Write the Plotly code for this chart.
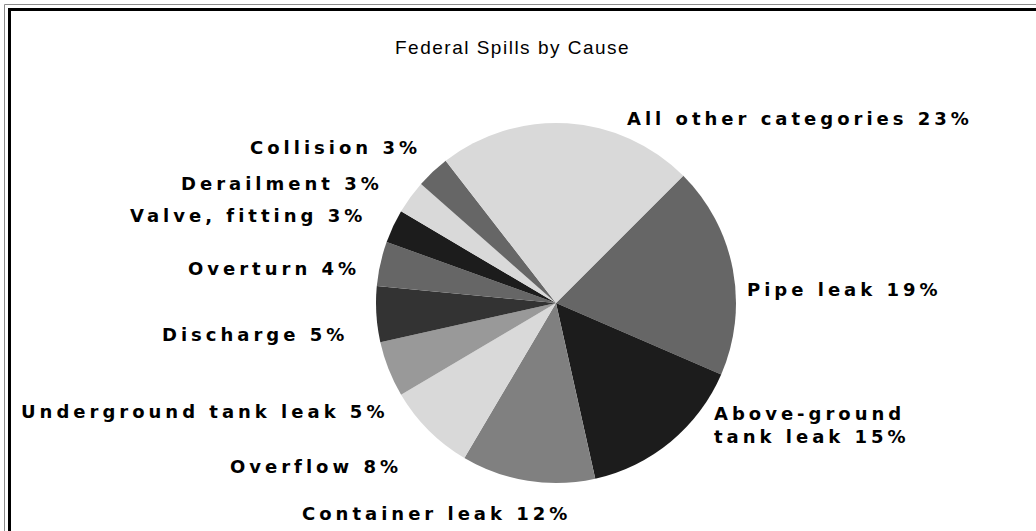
import plotly.graph_objects as go

# Federal spills broken down by cause (percent of total)
causes = [
    "Pipe leak",
    "Above-ground tank leak",
    "Container leak",
    "Overflow",
    "Underground tank leak",
    "Discharge",
    "Overturn",
    "Valve, fitting",
    "Derailment",
    "Collision",
    "All other categories",
]
shares = [19, 15, 12, 8, 5, 5, 4, 3, 3, 3, 23]

# label text as printed beside each slice
label_text = [
    "Pipe leak",
    "Above-ground<br>tank leak",
    "Container leak",
    "Overflow",
    "Underground tank leak",
    "Discharge",
    "Overturn",
    "Valve, fitting",
    "Derailment",
    "Collision",
    "All other categories",
]

slice_colors = [
    "#666666", "#1c1c1c", "#808080", "#d9d9d9", "#999999", "#333333",
    "#666666", "#1c1c1c", "#d9d9d9", "#666666", "#d9d9d9",
]

W, H = 1036, 531

# label anchor points in pixels (x, y, horizontal anchor, text alignment)
label_pos = [
    (745, 289, "left", "left"),
    (712, 425, "left", "left"),
    (436, 513, "center", "center"),
    (404, 466, "right", "right"),
    (390, 411, "right", "right"),
    (350, 334, "right", "right"),
    (362, 268, "right", "right"),
    (368, 215, "right", "right"),
    (385, 183, "right", "right"),
    (423, 147, "right", "right"),
    (625, 118, "left", "left"),
]

cx, cy, r = 556, 303, 180

fig = go.Figure(
    go.Pie(
        labels=causes,
        values=shares,
        sort=False,
        direction="clockwise",
        rotation=45,
        marker=dict(colors=slice_colors, line=dict(width=0)),
        textinfo="none",
        hoverinfo="label+percent",
        showlegend=False,
        domain=dict(
            x=[(cx - r) / W, (cx + r) / W],
            y=[(H - cy - r) / H, (H - cy + r) / H],
        ),
    )
)


def spaced(text, px):
    """Wrap each line in a span with extra tracking."""
    return "<br>".join(
        f'<span style="letter-spacing:{px}px">{line}</span>' for line in text.split("<br>")
    )


annotations = []
for txt, val, (px, py, xa, al) in zip(label_text, shares, label_pos):
    annotations.append(
        dict(
            text=spaced(f"{txt} {val}%", 4),
            x=px / W,
            y=1 - py / H,
            xref="paper",
            yref="paper",
            xanchor=xa,
            yanchor="middle",
            align=al,
            showarrow=False,
            font=dict(family="DejaVu Sans", size=18, color="#000000", weight="bold"),
        )
    )

annotations.append(
    dict(
        text=spaced("Federal Spills by Cause", 1.5),
        x=512 / W,
        y=1 - 47 / H,
        xref="paper",
        yref="paper",
        xanchor="center",
        yanchor="middle",
        showarrow=False,
        font=dict(family="Liberation Sans", size=19, color="#000000"),
    )
)

# double frame along the top and left edges
shapes = [
    dict(type="line", xref="paper", yref="paper", x0=4.5 / W, x1=1, y0=1 - 4.5 / H, y1=1 - 4.5 / H,
         line=dict(color="#8c8c8c", width=1)),
    dict(type="line", xref="paper", yref="paper", x0=4.5 / W, x1=4.5 / W, y0=0, y1=1 - 4.5 / H,
         line=dict(color="#8c8c8c", width=1)),
    dict(type="line", xref="paper", yref="paper", x0=8 / W, x1=1, y0=1 - 9.5 / H, y1=1 - 9.5 / H,
         line=dict(color="#000000", width=3)),
    dict(type="line", xref="paper", yref="paper", x0=9.5 / W, x1=9.5 / W, y0=0, y1=1 - 8 / H,
         line=dict(color="#000000", width=3)),
]

fig.update_layout(
    width=W,
    height=H,
    margin=dict(l=0, r=0, t=0, b=0),
    paper_bgcolor="#ffffff",
    plot_bgcolor="#ffffff",
    annotations=annotations,
    shapes=shapes,
)

fig.write_html("out.html")
